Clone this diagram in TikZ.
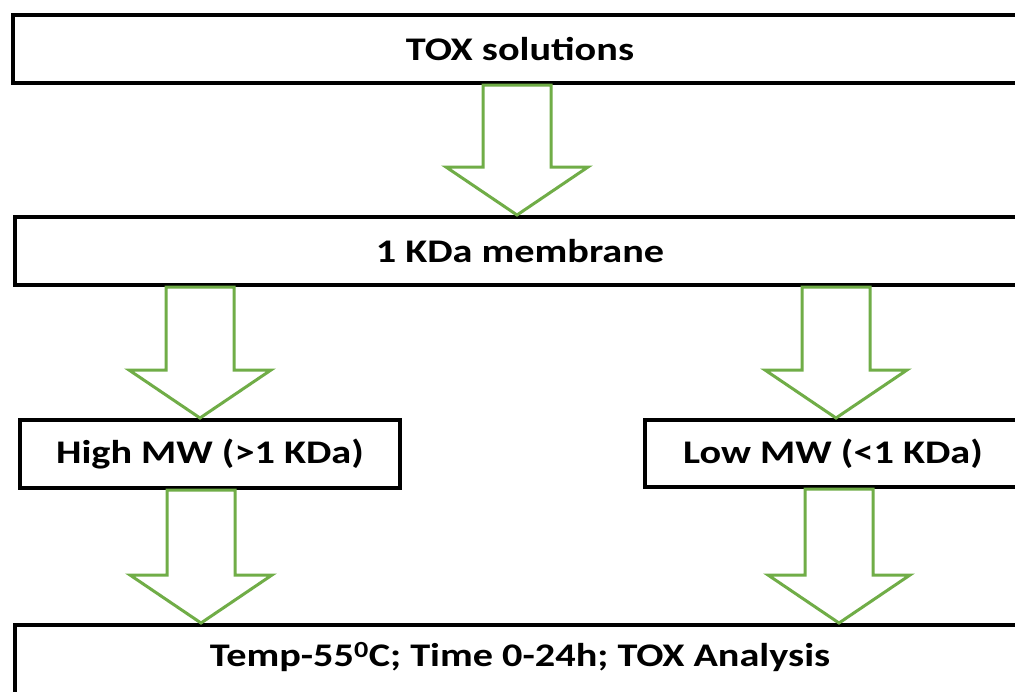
\documentclass[tikz,border=0pt]{standalone}
\usepackage{fontspec}
\setmainfont{Carlito}[FakeStretch=1.22]
\usetikzlibrary{calc}
\definecolor{arrgreen}{HTML}{70AD47}
\tikzset{
  stagebox/.style={draw=black, line width=4pt, fill=white, inner sep=0pt,
    font=\fontsize{33}{36}\selectfont\bfseries, text=black},
  stagetext/.style={inner sep=0pt, font=\fontsize{33}{36}\selectfont\bfseries, text=black},
  greenarrow/.style={draw=arrgreen, line width=3pt, fill=white, line join=miter},
}
\newcommand\blockarr[2]{%
  \draw[greenarrow] let \p1=(#1), \p2=(#2) in
    (\x1-34pt,\y1) -- (\x1+34pt,\y1) -- (\x1+34pt,\y2+48pt) -- (\x1+71pt,\y2+48pt)
    -- (\x2,\y2) -- (\x1-71pt,\y2+48pt) -- (\x1-34pt,\y2+48pt) -- cycle;}
\begin{document}
\begin{tikzpicture}[x=1pt,y=-1pt]
\useasboundingbox (0,0) rectangle (1015,691);
\clip (0,0) rectangle (1015,691);
\fill[white] (0,0) rectangle (1015,691);
\node[stagebox, minimum width=1014pt, minimum height=68pt] (tox) at (520,49) {TOX solutions};
\node[stagebox, minimum width=1010pt, minimum height=68pt] (mem) at (520,251) {1 KDa membrane};
\node[stagebox, minimum width=380pt, minimum height=68pt] (high) at (210,454) {High MW (>1 KDa)};
\node[stagebox, minimum width=376pt, minimum height=67pt] (low) at (833,453.5) {Low MW (<1 KDa)};
\node[stagebox, minimum width=1010pt, minimum height=90pt] (ana) at (520,670) {};
\node[stagetext] (anatext) at (520,657) {Temp-55\textsuperscript{0}C; Time 0-24h; TOX Analysis};
\coordinate (a1s) at (tox.south -| 517,0);
\coordinate (a1e) at (mem.north -| 517,0);
\coordinate (a2s) at (mem.south -| 200,0);
\coordinate (a2e) at (high.north -| 200,0);
\coordinate (a3s) at (mem.south -| 836,0);
\coordinate (a3e) at (low.north -| 836,0);
\coordinate (a4s) at (high.south -| 201,0);
\coordinate (a4e) at (ana.north -| 201,0);
\coordinate (a5s) at (low.south -| 839,0);
\coordinate (a5e) at (ana.north -| 839,0);
\blockarr{a1s}{a1e}
\blockarr{a2s}{a2e}
\blockarr{a3s}{a3e}
\blockarr{a4s}{a4e}
\blockarr{a5s}{a5e}
\end{tikzpicture}
\end{document}
